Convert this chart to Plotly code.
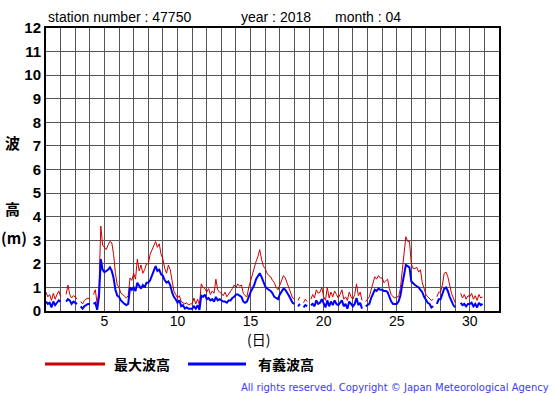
import plotly.graph_objects as go

# ---- data ----
days = list(range(1, 31))
hours = [0, 3, 6, 9, 12, 15, 18, 21]

# 最大波高 (m), 3-hourly, one list per day
max_wave = [
    [0.8, 0.6, 0.7, 0.45, 0.75, 0.5, 0.7, 0.85],
    [0.6, None, None, 0.7, 1.1, 0.7, 0.55, 0.65],
    [0.6, 0.5, None, 0.4, 0.3, 0.45, 0.5, 0.55],
    [0.5, None, 0.7, 0.9, 0.3, 0.9, 3.6, 2.8],
    [2.7, 2.6, 2.8, 2.95, 2.9, 2.4, 1.6, 1.1],
    [1.0, 0.75, 0.7, 0.6, 0.55, 0.65, 1.4, 1.3],
    [1.6, 1.35, 2.2, 1.7, 1.95, 1.6, 1.75, 2.0],
    [2.0, 2.4, 2.6, 2.8, 2.95, 2.7, 2.85, 2.4],
    [2.2, 1.8, 1.6, 1.95, 1.75, 1.3, 0.85, 0.7],
    [0.55, 0.65, 0.4, 0.35, 0.3, 0.35, 0.25, 0.3],
    [0.3, 0.55, 0.3, 0.5, 0.25, 1.15, 1.0, 0.95],
    [0.8, 0.95, 0.7, 0.85, 0.75, 1.35, 0.9, 0.8],
    [0.75, 0.65, 0.8, 0.6, 0.7, 0.85, 0.95, 1.1],
    [1.0, 1.15, 1.05, 1.1, 0.75, 0.65, 0.6, 1.0],
    [1.3, 1.6, 1.8, 2.1, 2.3, 2.6, 2.2, 1.9],
    [1.8, 1.6, 1.5, 1.45, 1.3, 1.2, 1.0, 0.9],
    [1.1, 1.3, 1.5, 1.4, 1.2, 1.0, 0.8, 0.55],
    [0.5, None, 0.45, 0.6, None, 0.35, 0.5, 0.4],
    [None, 0.5, 0.7, 0.55, 0.9, 0.75, 0.8, 1.0],
    [0.6, 0.45, 1.0, 0.55, 0.8, 0.6, 0.85, 0.7],
    [0.55, 0.7, 0.9, 0.5, 0.6, 0.45, 0.8, 0.6],
    [0.5, 0.7, 1.15, 0.65, 0.8, 0.45, None, 0.4],
    [0.5, 0.6, 0.9, 1.2, 1.45, 1.35, 1.5, 1.4],
    [1.4, 1.2, 1.3, 1.35, 0.95, 0.7, 0.6, 0.55],
    [0.6, 0.6, 0.95, 1.6, 2.5, 3.15, 2.95, 2.95],
    [2.0, 1.8, 1.8, 1.85, 1.65, 1.75, 1.2, 0.9],
    [0.7, 0.6, 0.5, 0.45, 0.5, None, 0.6, 0.8],
    [0.8, 1.1, 1.6, 1.65, 1.45, 1.1, 0.75, 0.55],
    [0.35, None, None, 0.75, 0.55, 0.7, 0.5, 0.65],
    [0.6, 0.75, 0.5, 0.65, 0.45, 0.7, 0.55, 0.6],
]

# 有義波高 (m), 3-hourly, one list per day
sig_wave = [
    [0.4, 0.3, 0.35, 0.15, 0.4, 0.25, 0.35, 0.45],
    [0.4, None, None, 0.4, 0.5, 0.45, 0.3, 0.4],
    [0.35, 0.3, None, 0.2, 0.1, 0.2, 0.25, 0.3],
    [0.3, None, 0.3, 0.35, 0.05, 0.6, 2.2, 1.75],
    [1.65, 1.7, 1.75, 1.85, 1.7, 1.4, 0.9, 0.65],
    [0.6, 0.45, 0.35, 0.3, 0.25, 0.3, 1.0, 0.9],
    [1.0, 0.85, 1.2, 1.05, 0.95, 1.1, 1.0, 1.2],
    [1.2, 1.3, 1.5, 1.75, 1.9, 1.7, 1.75, 1.55],
    [1.5, 1.3, 1.2, 1.25, 1.1, 0.8, 0.6, 0.5],
    [0.35, 0.45, 0.2, 0.25, 0.1, 0.15, 0.1, 0.1],
    [0.1, 0.2, 0.1, 0.25, 0.05, 0.65, 0.6, 0.7],
    [0.5, 0.55, 0.45, 0.5, 0.4, 0.6, 0.45, 0.5],
    [0.45, 0.4, 0.4, 0.35, 0.45, 0.45, 0.55, 0.6],
    [0.7, 0.7, 0.65, 0.6, 0.4, 0.35, 0.4, 0.65],
    [0.8, 0.95, 1.1, 1.35, 1.5, 1.6, 1.45, 1.2],
    [1.05, 0.95, 0.9, 0.85, 0.75, 0.6, 0.55, 0.5],
    [0.7, 0.85, 0.95, 0.9, 0.8, 0.65, 0.5, 0.35],
    [0.3, None, 0.2, 0.3, None, 0.15, 0.25, 0.2],
    [None, 0.25, 0.3, 0.2, 0.45, 0.3, 0.35, 0.5],
    [0.3, 0.15, 0.45, 0.2, 0.4, 0.25, 0.45, 0.3],
    [0.25, 0.35, 0.45, 0.2, 0.3, 0.1, 0.4, 0.3],
    [0.2, 0.3, 0.55, 0.25, 0.35, 0.1, None, 0.2],
    [0.25, 0.3, 0.55, 0.75, 0.9, 0.85, 0.95, 0.9],
    [0.9, 0.85, 0.85, 0.8, 0.6, 0.4, 0.3, 0.3],
    [0.3, 0.4, 0.65, 1.1, 1.6, 1.95, 1.9, 1.85],
    [1.25, 1.15, 1.1, 1.05, 1.0, 0.9, 0.8, 0.6],
    [0.45, 0.35, 0.3, 0.15, 0.2, None, 0.3, 0.5],
    [0.5, 0.7, 0.95, 1.0, 0.85, 0.6, 0.4, 0.25],
    [0.15, None, None, 0.35, 0.25, 0.3, 0.2, 0.3],
    [0.3, 0.35, 0.2, 0.3, 0.15, 0.35, 0.25, 0.3],
]

x_label_days = [5, 10, 15, 20, 25, 30]
y_tickvals = list(range(0, 13))
y_ticktext = [str(v) for v in y_tickvals]

series_names = ["最大波高", "有義波高"]
series_colors = ["#cc0000", "#0000ff"]

# ---- build ----
xs = [d + h / 24 for d in days for h in hours]
ys_max = [v for day in max_wave for v in day]
ys_sig = [v for day in sig_wave for v in day]

fig = go.Figure()
fig.add_trace(go.Scatter(x=xs, y=ys_max, mode="lines", name=series_names[0],
                         line=dict(color=series_colors[0], width=1), connectgaps=False))
fig.add_trace(go.Scatter(x=xs, y=ys_sig, mode="lines", name=series_names[1],
                         line=dict(color=series_colors[1], width=2), connectgaps=False))

GRID = "#555555"
fig.update_layout(
    width=555, height=395, autosize=False,
    margin=dict(l=46, r=56, t=28, b=84, pad=0),
    paper_bgcolor="white", plot_bgcolor="white",
    showlegend=False,
    xaxis=dict(range=[1, 32], tickmode="array", tickvals=x_label_days,
               ticktext=[str(d) for d in x_label_days],
               showgrid=False, zeroline=False,
               minor=dict(tickmode="linear", tick0=1, dtick=1, showgrid=True,
                          gridcolor=GRID, gridwidth=1, ticks=""),
               showline=True, linecolor="black", linewidth=2, mirror=True,
               ticks="", ticklabelstandoff=-4,
               tickfont=dict(family="Liberation Sans", size=14, color="black")),
    yaxis=dict(range=[0, 12], tickmode="array", tickvals=y_tickvals, ticktext=y_ticktext,
               showgrid=True, gridcolor=GRID, gridwidth=1, zeroline=False,
               showline=True, linecolor="black", linewidth=2, mirror=True,
               ticks="", tickfont=dict(family="Liberation Sans", size=15, color="black", weight="bold")),
)

def px_x(p):
    return (p - 46) / 453.0

def px_y(p):
    return (311 - p) / 283.0

ann = []
title_font = dict(family="Liberation Sans", size=14, color="black")
for txt, left in [("station number : 47750", 46), ("year : 2018", 239), ("month : 04", 333)]:
    ann.append(dict(text=txt, x=px_x(left), y=px_y(17), xref="paper", yref="paper",
                    xanchor="left", yanchor="middle", showarrow=False, font=title_font))

cjk_bold = dict(family="Noto Sans CJK JP", size=15, color="black", weight="bold")
for txt, cx, cy in [("波", 12.5, 142), ("高", 12.5, 208), ("(m)", 13.5, 238)]:
    ann.append(dict(text=txt, x=px_x(cx), y=px_y(cy), xref="paper", yref="paper",
                    xanchor="center", yanchor="middle", showarrow=False, font=cjk_bold))

ann.append(dict(text="(日)", x=px_x(258), y=px_y(339), xref="paper", yref="paper",
                xanchor="center", yanchor="middle", showarrow=False,
                font=dict(family="Noto Sans CJK JP", size=14, color="black")))

leg_font = dict(family="Noto Sans CJK JP", size=14, color="black", weight="bold")
ann.append(dict(text=series_names[0], x=px_x(142), y=px_y(364), xref="paper", yref="paper",
                xanchor="center", yanchor="middle", showarrow=False, font=leg_font))
ann.append(dict(text=series_names[1], x=px_x(285.5), y=px_y(364), xref="paper", yref="paper",
                xanchor="center", yanchor="middle", showarrow=False, font=leg_font))

ann.append(dict(text="All rights reserved. Copyright © Japan Meteorological Agency",
                x=px_x(551), y=px_y(387), xref="paper", yref="paper",
                xanchor="right", yanchor="middle", showarrow=False,
                font=dict(family="DejaVu Sans", size=10, color="#3c3cf0")))

fig.update_layout(annotations=ann)

shapes = [
    dict(type="line", xref="paper", yref="paper", x0=px_x(45), x1=px_x(105),
         y0=px_y(364), y1=px_y(364), line=dict(color=series_colors[0], width=3)),
    dict(type="line", xref="paper", yref="paper", x0=px_x(188), x1=px_x(246),
         y0=px_y(364), y1=px_y(364), line=dict(color=series_colors[1], width=3)),
]
fig.update_layout(shapes=shapes)

fig.write_html("out.html", config={"displayModeBar": False},
               post_script="document.body.style.margin='0';")
